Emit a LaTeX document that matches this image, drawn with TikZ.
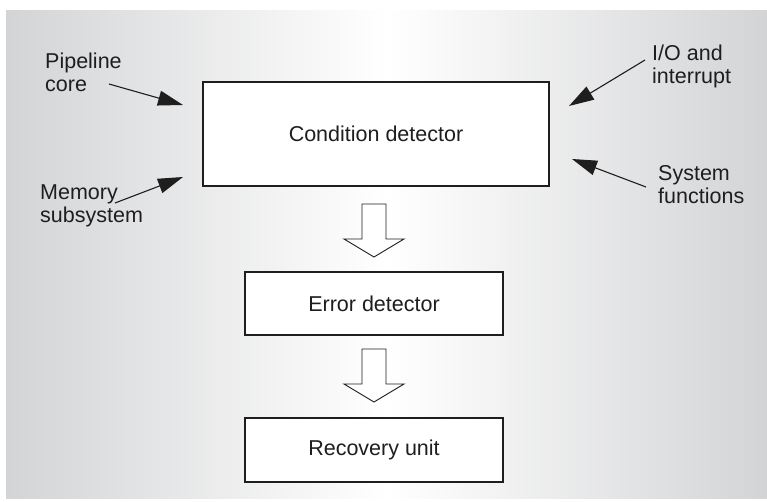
\documentclass[tikz,border=0pt]{standalone}
\usepackage{fontspec}
\setmainfont{Liberation Sans}
\usetikzlibrary{arrows.meta,calc}
\definecolor{bgside}{HTML}{D3D4D6}
\definecolor{ink}{HTML}{1E1E1E}
\tikzset{
  box/.style={draw=ink, line width=1.1pt, fill=white, inner sep=0pt, font=\fontsize{21.5}{23}\selectfont, text=ink},
  lbl/.style={align=left, anchor=north west, inner sep=0pt, font=\fontsize{21.5}{23}\selectfont, text=ink},
  inarrow/.style={draw=ink, line width=1.1pt, -{Triangle[length=25pt,width=15pt]}},
  blockarrow/.style={draw=ink, line width=0.9pt, fill=white}
}
\begin{document}
\begin{tikzpicture}[x=1pt,y=-1pt]
\useasboundingbox (0,0) rectangle (767,501);
\shade[left color=bgside, right color=bgside, middle color=white] (6,10) rectangle (767,498);
% boxes
\node[box, minimum width=346pt, minimum height=104pt] (cond) at (376,134) {Condition detector};
\node[box, minimum width=258pt, minimum height=63pt] (err) at (374,303.5) {Error detector};
\node[box, minimum width=258pt, minimum height=64pt] (rec) at (374,450) {Recovery unit};
% labels
\node[lbl] (pipe) at (45,53) {Pipeline\\core};
\node[lbl] (io) at (652,45) {I/O and\\interrupt};
\node[lbl] (mem) at (40,185) {Memory\\subsystem};
\node[lbl] (sys) at (658,165) {System\\functions};
% input arrows
\coordinate (pA) at (109,84); \coordinate (pB) at (183,105);
\coordinate (iA) at (645,60); \coordinate (iB) at (569,106);
\coordinate (mA) at (115,203); \coordinate (mB) at (183,177);
\coordinate (sA) at (646,187); \coordinate (sB) at (572,159);
\draw[inarrow] (pA) -- (pB);
\draw[inarrow] (iA) -- (iB);
\draw[inarrow] (mA) -- (mB);
\draw[inarrow] (sA) -- (sB);
% block arrows
\coordinate (b1) at (374,204);
\coordinate (b2) at (374,349);
\draw[blockarrow] ($(b1)+(-12,0)$) -- ++(0,35) -- ++(-18,0) -- (374,257) -- (404,239) -- ++(-18,0) -- ++(0,-35) -- cycle;
\draw[blockarrow] ($(b2)+(-12,0)$) -- ++(0,35) -- ++(-18,0) -- (374,402) -- (404,384) -- ++(-18,0) -- ++(0,-35) -- cycle;
\end{tikzpicture}
\end{document}
